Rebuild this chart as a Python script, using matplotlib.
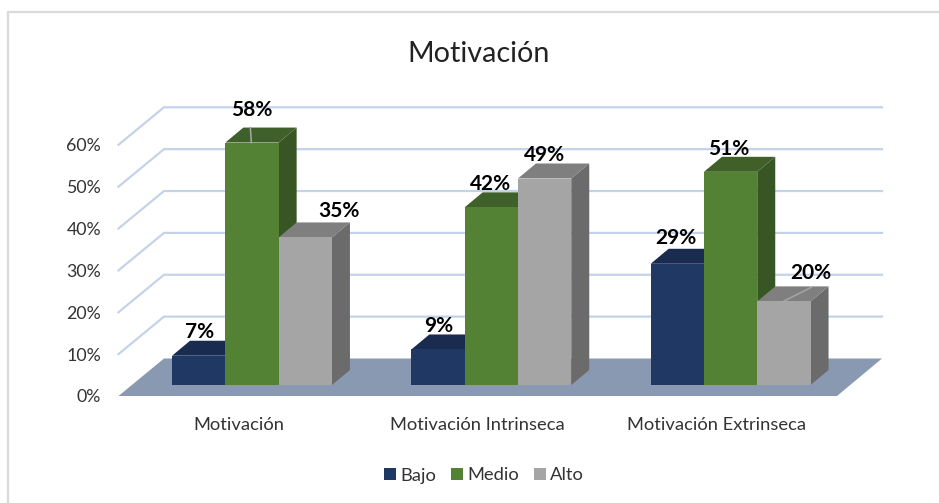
import matplotlib
matplotlib.use("Agg")
import matplotlib.pyplot as plt
from matplotlib.patches import Polygon, Patch
from matplotlib.lines import Line2D

categories = ["Motivación", "Motivación Intrinseca", "Motivación Extrinseca"]
series_names = ["Bajo", "Medio", "Alto"]
bajo = [7, 8.5, 29]
medio = [58, 42.5, 51]
alto = [35.3, 49.4, 20]
bajo_labels = ["7%", "9%", "29%"]
medio_labels = ["58%", "42%", "51%"]
alto_labels = ["35%", "49%", "20%"]
y_ticks = [0, 10, 20, 30, 40, 50, 60]
title = "Motivación"

front = ["#1F3864", "#548235", "#A5A5A5"]
top = ["#1A2B50", "#40602A", "#7F7F7F"]
side = ["#16274A", "#375623", "#6B6B6B"]

plt.rcParams["font.family"] = ["Lato", "DejaVu Sans"]
W, H = 939, 503
fig = plt.figure(figsize=(W / 100, H / 100), dpi=100, facecolor="white")
ax = fig.add_axes([0, 0, 1, 1])

UX = 239.3   # px per category
UY = 4.18    # px per percent
X0, Y0 = 252.0, 385.0
ax.set_xlim((0 - X0) / UX, (W - X0) / UX)
ax.set_ylim((Y0 - H) / UY, Y0 / UY)
ax.axis("off")

dx = lambda p: p / UX
dy = lambda p: p / UY

# outer frame (left and top only)
xl, xr = ax.get_xlim(); yb, yt = ax.get_ylim()
ax.add_line(Line2D([xl + dx(8), xl + dx(8), xr], [yb, yt - dy(12), yt - dy(12)],
                   color="#D9D9D9", lw=1.6, zorder=1))

# walls
x_fl = dx(118.5 - X0); x_bl = dx(164 - X0); x_br = dx(882 - X0); x_fr = dx(837 - X0)
y_front0 = dy(Y0 - 396); y_back0 = dy(Y0 - 358.5)
PER = 41.87 / UY / 10
for v in y_ticks[1:]:
    ax.add_line(Line2D([x_fl, x_bl, x_br],
                       [y_front0 + v * PER, y_back0 + v * PER, y_back0 + v * PER],
                       color="#C5D3EA", lw=1.6, zorder=2, solid_joinstyle="miter"))
ax.add_patch(Polygon([(x_fl, y_front0), (x_fr, y_front0), (x_br, y_back0), (x_bl, y_back0)],
                     closed=True, fc="#8A99B2", ec="none", zorder=2))

for v in y_ticks:
    ax.text(dx(101 - X0), y_front0 + v * PER - dy(1.5), f"{v}%", ha="right", va="center",
            fontsize=12.8, color="#333333", zorder=6)

# bars
bw = 53.3 / UX
ddx, ddy = dx(18), dy(15)
series = [bajo, medio, alto]
labels = [bajo_labels, medio_labels, alto_labels]
z = 3
for c in range(len(categories)):
    for s, vals in enumerate(series):
        v = vals[c]
        x0 = c + (s - 1.5) * bw
        x1 = x0 + bw
        ax.add_patch(Polygon([(x1, 0), (x1 + ddx, ddy), (x1 + ddx, v + ddy), (x1, v)],
                             fc=side[s], ec="none", zorder=z))
        ax.add_patch(Polygon([(x0, v), (x1, v), (x1 + ddx, v + ddy), (x0 + ddx, v + ddy)],
                             fc=top[s], ec="none", zorder=z))
        ax.add_patch(Polygon([(x0, 0), (x1, 0), (x1, v), (x0, v)],
                             fc=front[s], ec="none", zorder=z))
        z += 0.01

# data labels
label_off = {(0, 0): (28, 24.2), (0, 1): (26.7, 32.6), (0, 2): (60.4, 26.2),
             (1, 0): (27.2, 23.5), (1, 1): (26.1, 23.7), (1, 2): (26.1, 23.5),
             (2, 0): (25.4, 25.8), (2, 1): (25.1, 22.8), (2, 2): (53.7, 28.7)}
for c in range(len(categories)):
    for s, vals in enumerate(series):
        v = vals[c]
        x0 = c + (s - 1.5) * bw
        ox, oy = label_off[(c, s)]
        ax.text(x0 + dx(ox), v + dy(oy), labels[s][c], ha="center", va="center",
                fontsize=15, fontweight="bold", color="black", zorder=8)

# leader lines
ax.add_line(Line2D([0 - bw / 2 + dx(26), 0 - bw / 2 + dx(25)], [58, 58 + dy(15)],
                   color="#A6A6A6", lw=1.1, zorder=7))
x0 = 2 + 0.5 * bw
ax.add_line(Line2D([x0 + dx(26), x0 + dx(54)], [20, 20 + dy(14)],
                   color="#A6A6A6", lw=1.1, zorder=7))

# category labels
for c, name in enumerate(categories):
    cx = {0: 239, 1: 477, 2: 716.5}[c]
    ax.text(dx(cx - X0), dy(Y0 - 424.5), name, ha="center", va="center",
            fontsize=13.2, color="#333333")

ax.text(dx(479 - X0), dy(Y0 - 54), title, ha="center", va="center",
        fontsize=20.7, color="#222222")

handles = [Patch(fc=front[i], ec="none", label=series_names[i]) for i in range(3)]
fig.legend(handles=handles, ncol=3, frameon=False, loc="center",
           bbox_to_anchor=(484 / W, 1 - 475.5 / H), fontsize=13.2,
           handlelength=0.65, handleheight=0.65, handletextpad=0.25,
           columnspacing=0.8, labelcolor="#333333")

fig.savefig("out.png", dpi=100)
